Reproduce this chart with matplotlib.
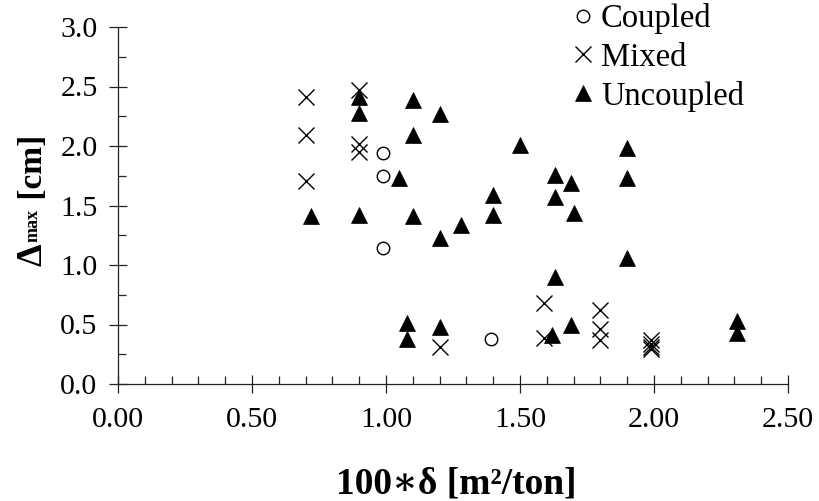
import matplotlib
matplotlib.use("Agg")
import matplotlib.pyplot as plt
from matplotlib.ticker import MultipleLocator, FormatStrFormatter

plt.rcParams['font.family'] = ['Liberation Serif', 'DejaVu Serif']

# data
coupled_x = [0.99, 0.99, 0.99, 1.39]
coupled_y = [1.94, 1.75, 1.14, 0.38]

mixed_x = [0.70, 0.70, 0.70, 0.90, 0.90, 0.90, 1.20, 1.59, 1.59,
           1.80, 1.80, 1.80, 1.99, 1.99, 1.99, 1.99]
mixed_y = [2.41, 2.09, 1.71, 2.47, 2.02, 1.95, 0.31, 0.68, 0.39,
           0.62, 0.46, 0.37, 0.37, 0.34, 0.31, 0.29]

uncoupled_x = [0.72, 0.90, 0.90, 0.90, 1.05, 1.08, 1.08, 1.10, 1.10, 1.10,
               1.20, 1.20, 1.20, 1.28, 1.40, 1.40, 1.50, 1.63, 1.63, 1.63,
               1.62, 1.69, 1.70, 1.69, 1.90, 1.90, 1.90, 2.31, 2.31]
uncoupled_y = [1.41, 2.41, 2.28, 1.42, 1.73, 0.51, 0.38, 2.39, 2.09, 1.41,
               2.27, 1.23, 0.48, 1.34, 1.59, 1.42, 2.01, 1.76, 1.57, 0.90,
               0.41, 1.69, 1.44, 0.50, 1.98, 1.73, 1.06, 0.53, 0.43]

W, H = 819, 501
fig = plt.figure(figsize=(W / 100, H / 100), dpi=100)
ax = fig.add_axes([118 / W, 1 - 384 / H, 670 / W, 357 / H])

ax.plot(coupled_x, coupled_y, linestyle='none', marker='o', ms=9,
        mfc='white', mec='black', mew=1.0, label='Coupled', zorder=3)
ax.plot(mixed_x, mixed_y, linestyle='none', marker='x', ms=11,
        color='black', mew=1.0, label='Mixed', zorder=3)
ax.plot(uncoupled_x, uncoupled_y, linestyle='none', marker='^', ms=11.5,
        color='black', mew=0.5, label='Uncoupled', zorder=3)

ax.set_xlim(0, 2.5)
ax.set_ylim(0, 3.0)
ax.xaxis.set_major_locator(MultipleLocator(0.5))
ax.xaxis.set_minor_locator(MultipleLocator(0.1))
ax.yaxis.set_major_locator(MultipleLocator(0.5))
ax.yaxis.set_minor_locator(MultipleLocator(0.25))
ax.xaxis.set_major_formatter(FormatStrFormatter('%.2f'))
ax.yaxis.set_major_formatter(FormatStrFormatter('%.1f'))

for s in ['top', 'right']:
    ax.spines[s].set_visible(False)
for s in ['left', 'bottom']:
    ax.spines[s].set_linewidth(0.9)
    ax.spines[s].set_color('#222222')

ax.tick_params(which='major', direction='inout', length=13.5, width=0.9,
               color='#222222', labelsize=21.5)
ax.tick_params(which='minor', direction='in', length=5.5, width=0.9,
               color='#222222')
ax.tick_params(axis='x', which='major', pad=10)
ax.tick_params(axis='y', which='major', pad=8)

ax.legend(loc='upper left', bbox_to_anchor=(570 / W, 1 - 3 / H),
          bbox_transform=fig.transFigure, frameon=False, fontsize=23.5,
          borderpad=0, borderaxespad=0, handlelength=0.8,
          handletextpad=0.15, labelspacing=0.25)

# y label: big delta, smaller raised "max", then the unit, chained upwards
renderer = fig.canvas.get_renderer()
pieces = [('Δ', 26, 0), ('max', 13, 4), (' [cm]', 24, 0)]
base_x = 42
y_pos = 0
texts = []
for s, size, lift in pieces:
    t = fig.text((base_x - lift) / W, y_pos / H, s, rotation=90,
                 rotation_mode='anchor', ha='left', va='baseline',
                 fontsize=size, fontweight='bold')
    bb = t.get_window_extent(renderer)
    texts.append(t)
    y_pos = bb.y1 + 1
# center the whole label on the axes
center = H - 200
shift = center - y_pos / 2
for t in texts:
    x, y = t.get_position()
    t.set_position((x, y + shift / H))

fig.text(456 / W, 1 - 494 / H, '100∗δ [m²/ton]', ha='center', va='baseline',
         fontsize=27, fontweight='bold')

fig.savefig('out.png', dpi=100)
